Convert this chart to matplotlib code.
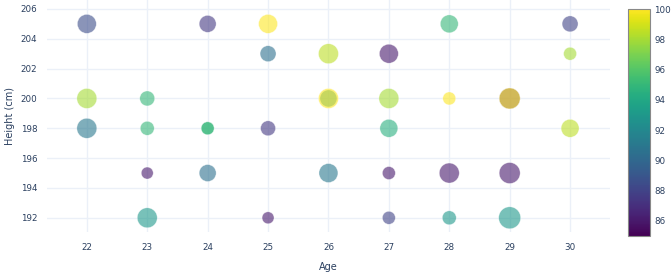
#!/usr/bin/env python3
"""Bubble chart: height vs age, coloured by score (viridis, 85-100)."""

import matplotlib.pyplot as plt
from matplotlib.colors import Normalize

AGE = [22, 22, 22,
       23, 23, 23, 23,
       24, 24, 24, 24,
       25, 25, 25, 25,
       26, 26, 26, 26,
       27, 27, 27, 27, 27,
       28, 28, 28, 28,
       29, 29, 29, 29,
       30, 30, 30]
HEIGHT = [205, 200, 198,
          200, 198, 195, 192,
          205, 198, 198, 195,
          205, 203, 198, 192,
          203, 200, 200, 195,
          203, 200, 198, 195, 192,
          205, 200, 195, 192,
          200, 200, 195, 192,
          205, 203, 198]
SCORE = [88.5, 98, 91,
         95, 95, 86, 93,
         87.5, 95, 95, 90.5,
         100, 90.5, 87.5, 86,
         98.5, 93, 100, 91,
         86, 98, 94.5, 86, 88,
         95, 100, 86, 93,
         86, 100, 86, 93,
         88, 98, 98.5]
# bubble size variable (marker diameter, px)
BUBBLE = [19, 20, 20,
          15, 14, 12, 20,
          17, 13, 13, 17,
          19, 16, 15, 12,
          20, 17, 20, 19,
          19, 20, 18, 13, 13,
          18, 13, 20, 14,
          21, 21, 21, 22,
          16, 13, 18]

X_TICKS = list(range(22, 31))
Y_TICKS = list(range(192, 207, 2))
CB_TICKS = list(range(86, 101, 2))

FONT_COLOR = "#2a3f5f"
GRID_COLOR = "#ebf0f8"

fig = plt.figure(figsize=(6.71, 2.76), dpi=100)
ax = fig.add_axes([0.070, 0.159, 0.839, 0.841])
cax = fig.add_axes([0.936, 0.145, 0.033, 0.822])

# diameter in px -> area in pt^2 (1 px = 0.72 pt at dpi 100)
sizes = [(d * 0.72) ** 2 for d in BUBBLE]
norm = Normalize(vmin=85, vmax=100)
ax.scatter(AGE, HEIGHT, c=SCORE, s=sizes, cmap="viridis", norm=norm,
           alpha=0.6, edgecolors="white", linewidths=0.4, zorder=3)

ax.set_xlim(21.34, 30.66)
ax.set_ylim(191.04, 206.6)
ax.set_xticks(X_TICKS)
ax.set_yticks(Y_TICKS)
ax.grid(True, color=GRID_COLOR, linewidth=1, zorder=0)
ax.set_axisbelow(True)
for spine in ax.spines.values():
    spine.set_visible(False)
ax.tick_params(length=0, labelsize=6.3, labelcolor=FONT_COLOR)
ax.tick_params(axis="x", pad=8)
ax.tick_params(axis="y", pad=7)
ax.set_xlabel("Age", fontsize=7, color=FONT_COLOR, labelpad=7)
ax.set_ylabel("Height (cm)", fontsize=7, color=FONT_COLOR, labelpad=4)

sm = plt.cm.ScalarMappable(norm=norm, cmap="viridis")
cb = fig.colorbar(sm, cax=cax)
cb.set_ticks(CB_TICKS)
cb.ax.tick_params(length=0, labelsize=6.3, labelcolor=FONT_COLOR, pad=3)
cb.outline.set_edgecolor("#888888")
cb.outline.set_linewidth(0.8)

fig.savefig("out.png", dpi=100)
